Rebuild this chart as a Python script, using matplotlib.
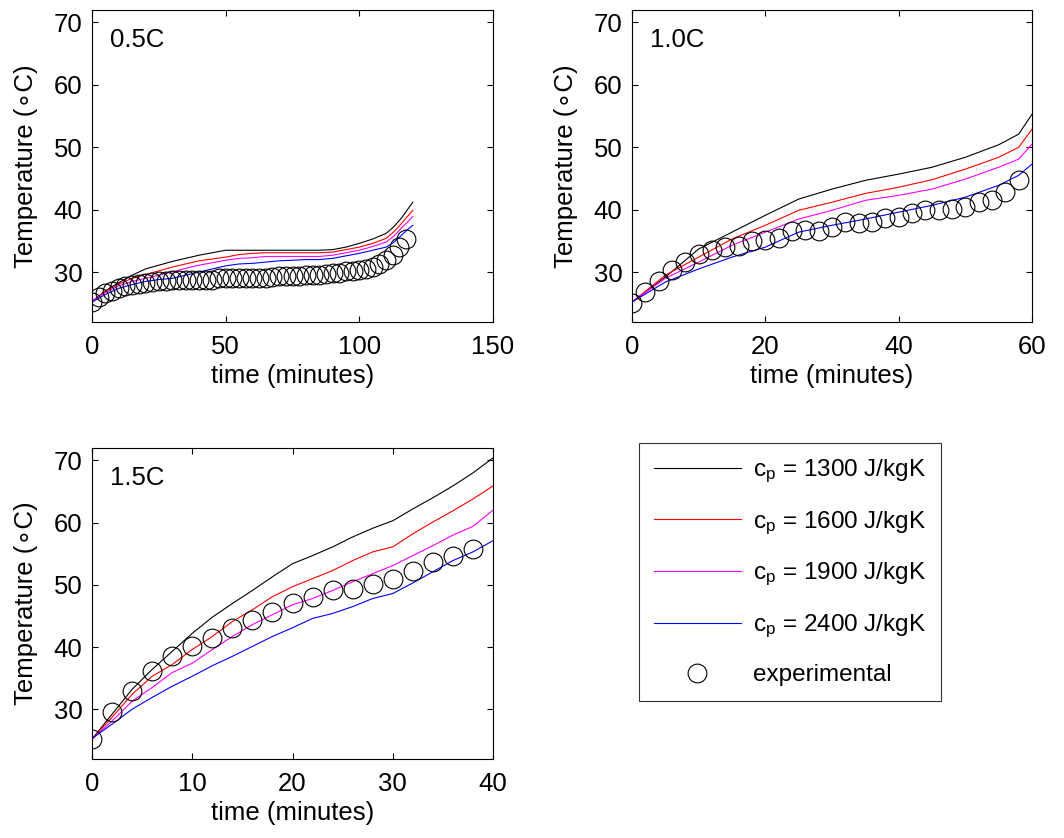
import numpy as np
import matplotlib
matplotlib.use("Agg")
from matplotlib import pyplot as plt
from matplotlib.lines import Line2D

plt.rcParams['font.family'] = ['Liberation Sans', 'DejaVu Sans']
plt.rcParams['mathtext.fontset'] = 'custom'
plt.rcParams['mathtext.rm'] = 'Liberation Sans'
plt.rcParams['mathtext.it'] = 'Liberation Sans'

# 0.5C
t05 = [0, 5, 10, 15, 20, 25, 30, 35, 40, 45, 50, 55, 60, 65, 70, 75, 80, 85,
       90, 95, 100, 105, 110, 113, 116, 118, 120]
cp1300_05 = [25.3, 27.0, 28.3, 29.5, 30.5, 31.1, 31.7, 32.2, 32.7, 33.1, 33.5, 33.5, 33.5, 33.5,
             33.5, 33.5, 33.5, 33.5, 33.6, 34.0, 34.6, 35.3, 36.2, 37.3, 38.8, 40.0, 41.2]
cp1600_05 = [25.3, 26.9, 28.1, 29.0, 29.6, 30.2, 30.8, 31.3, 31.8, 32.1, 32.4, 32.8, 33.0, 33.1,
             33.1, 33.1, 33.1, 33.1, 33.2, 33.6, 34.0, 34.6, 35.4, 36.5, 37.9, 38.9, 39.9]
cp1900_05 = [25.3, 26.7, 27.8, 28.5, 29.0, 29.5, 30.0, 30.6, 31.1, 31.5, 31.9, 32.2, 32.3, 32.5,
             32.5, 32.5, 32.5, 32.5, 32.7, 33.1, 33.5, 34.1, 34.8, 35.8, 37.2, 38.0, 38.9]
cp2400_05 = [25.2, 26.4, 27.4, 28.0, 28.5, 28.8, 29.0, 29.5, 30.0, 30.5, 31.0, 31.3, 31.4, 31.6,
             31.8, 31.9, 32.0, 32.0, 32.2, 32.6, 33.0, 33.5, 34.0, 34.8, 36.0, 36.8, 37.5]
texp05 = [0, 2.5, 5, 7.5, 10, 12.5, 15, 17.5, 20, 22.5, 25, 27.5, 30, 32.5, 35, 37.5, 40, 42.5,
          45, 47.5, 50, 52.5, 55, 57.5, 60, 62.5, 65, 67.5, 70, 72.5, 75, 77.5, 80, 82.5, 85,
          87.5, 90, 92.5, 95, 97.5, 100, 102.5, 105, 107.5, 110, 112.5, 115, 117.5]
exp05 = [25.2, 26.0, 26.6, 27.0, 27.4, 27.7, 27.9, 28.1, 28.3, 28.4, 28.5, 28.6, 28.7, 28.7,
         28.7, 28.7, 28.7, 28.7, 28.8, 29.0, 29.1, 29.1, 29.1, 29.1, 29.1, 29.1, 29.1, 29.2,
         29.3, 29.3, 29.4, 29.4, 29.5, 29.5, 29.6, 29.7, 29.8, 29.9, 30.1, 30.2, 30.3, 30.5,
         30.8, 31.3, 31.9, 32.8, 34.0, 35.3]

# 1.0C
t10 = [0, 5, 10, 15, 20, 25, 30, 35, 40, 45, 50, 55, 58, 60]
cp1300_10 = [25.2, 29.2, 33.7, 36.4, 39.1, 41.7, 43.3, 44.7, 45.7, 46.8, 48.4, 50.4, 52.1, 55.3]
cp1600_10 = [25.2, 29.5, 32.4, 35.3, 37.5, 39.9, 41.2, 42.6, 43.6, 44.8, 46.5, 48.4, 50.0, 52.9]
cp1900_10 = [25.2, 29.0, 31.6, 34.3, 36.4, 38.5, 39.9, 41.5, 42.3, 43.3, 44.9, 46.8, 48.1, 50.5]
cp2400_10 = [25.2, 28.4, 30.5, 32.4, 34.0, 36.4, 37.5, 38.5, 39.6, 40.7, 42.0, 43.9, 45.5, 47.3]
texp10 = [0, 2, 4, 6, 8, 10, 12, 14, 16, 18, 20, 22, 24, 26, 28, 30, 32, 34, 36, 38, 40, 42,
          44, 46, 48, 50, 52, 54, 56, 58]
exp10 = [25.1, 26.8, 28.6, 30.4, 31.6, 32.9, 33.5, 34.0, 34.1, 35.0, 35.2, 35.5, 36.6, 36.7,
         36.6, 37.2, 38.0, 37.8, 38.0, 38.6, 38.8, 39.5, 39.9, 40.0, 40.1, 40.5, 41.2, 41.6,
         42.9, 44.8]

# 1.5C
t15 = [0, 2, 4, 6, 8, 10, 12, 14, 16, 18, 20, 22, 24, 26, 28, 30, 32, 34, 36, 38, 40]
cp1300_15 = [25.2, 29.2, 33.2, 36.4, 39.3, 42.2, 44.8, 47.0, 49.1, 51.3, 53.4, 54.7, 56.1, 57.7,
             59.1, 60.3, 62.2, 64.0, 65.9, 68.0, 70.4]
cp1600_15 = [25.2, 28.7, 32.4, 35.3, 37.2, 39.6, 41.7, 44.1, 46.0, 48.1, 49.7, 51.0, 52.3, 53.9,
             55.3, 56.1, 58.2, 60.1, 61.9, 63.8, 65.9]
cp1900_15 = [25.2, 28.1, 31.3, 33.5, 35.9, 37.4, 39.6, 41.7, 43.6, 45.2, 46.8, 47.8, 49.1, 50.5,
             51.8, 53.1, 54.7, 56.3, 58.0, 59.4, 62.0]
cp2400_15 = [25.3, 27.6, 30.0, 31.9, 33.7, 35.3, 37.0, 38.5, 40.1, 41.7, 43.1, 44.6, 45.4, 46.5,
             47.8, 48.6, 50.3, 52.1, 53.9, 55.3, 57.1]
texp15 = [0, 2, 4, 6, 8, 10, 12, 14, 16, 18, 20, 22, 24, 26, 28, 30, 32, 34, 36, 38]
exp15 = [25.2, 29.5, 32.9, 36.1, 38.6, 40.2, 41.4, 43.1, 44.3, 45.7, 47.1, 48.1, 49.1, 49.4,
         50.2, 51.0, 52.2, 53.7, 54.7, 55.8]

cp_labels = ['1300', '1600', '1900', '2400']
line_colors = ['black', 'red', 'magenta', 'blue']

panels = [
    ('0.5C', t05, [cp1300_05, cp1600_05, cp1900_05, cp2400_05], texp05, exp05, 150, [0, 50, 100, 150]),
    ('1.0C', t10, [cp1300_10, cp1600_10, cp1900_10, cp2400_10], texp10, exp10, 60, [0, 20, 40, 60]),
    ('1.5C', t15, [cp1300_15, cp1600_15, cp1900_15, cp2400_15], texp15, exp15, 40, [0, 10, 20, 30, 40]),
]

W, H = 1064, 838
fig = plt.figure(figsize=(W / 100, H / 100), dpi=100)
boxes = [(92, 10, 493, 322), (632, 10, 1032, 322), (92, 448, 493, 759)]

fs = 18.5
ms = 13.5
for (name, t, sims, te, ye, xmax, xt), (x0, y0, x1, y1) in zip(panels, boxes):
    ax = fig.add_axes([x0 / W, 1 - y1 / H, (x1 - x0) / W, (y1 - y0) / H])
    for y, c in zip(sims, line_colors):
        ax.plot(t, y, color=c, lw=0.8)
    ax.plot(te, ye, 'o', mfc='none', mec='black', ms=ms, mew=0.8)
    ax.set_xlim(0, xmax)
    ax.set_ylim(22, 72)
    ax.set_xticks(xt)
    ax.set_yticks([30, 40, 50, 60, 70])
    ax.tick_params(direction='in', top=True, right=True, length=4, width=0.8,
                   labelsize=fs)
    ax.tick_params(axis='x', pad=9)
    ax.tick_params(axis='y', pad=7)
    for s in ax.spines.values():
        s.set_linewidth(0.8)
    ax.set_xlabel('time (minutes)', fontsize=fs, labelpad=4)
    ax.set_ylabel('Temperature (\u2218C)', fontsize=fs, labelpad=11)
    ax.text(0.045, 0.905, name, transform=ax.transAxes, fontsize=fs, va='center')

handles = [Line2D([], [], color=c, lw=0.8) for c in line_colors]
handles.append(Line2D([], [], ls='none', marker='o', mfc='none', mec='black', ms=ms, mew=0.8))
labels = [r'c$_\mathregular{p}$ = %s J/kgK' % v for v in cp_labels] + ['experimental']
leg = fig.legend(handles, labels, loc='upper left',
                 bbox_to_anchor=(639 / W, 1 - 443 / H), fontsize=17.5,
                 frameon=True, fancybox=False, handlelength=3.6, handletextpad=0.5,
                 labelspacing=1.0, borderpad=0.6, borderaxespad=0)
leg.get_frame().set_edgecolor('black')
leg.get_frame().set_linewidth(0.8)

fig.savefig('out.png', dpi=100)
